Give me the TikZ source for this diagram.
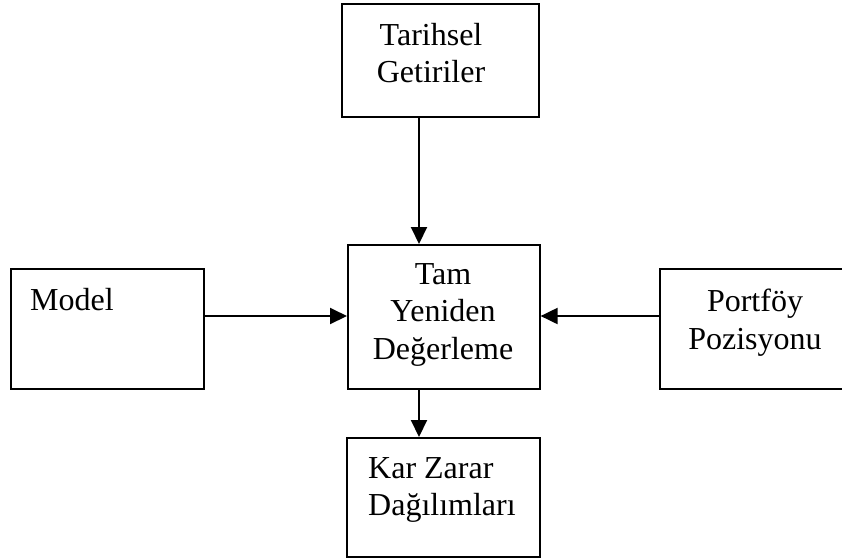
\documentclass[tikz,border=0pt]{standalone}
\usepackage{fontspec}
\setmainfont{Liberation Serif}
\usetikzlibrary{arrows.meta}
\tikzset{
  arr/.style={-{Triangle[length=17pt,width=16pt]}, line width=2pt, draw=black},
  blk/.style={draw=black, line width=1.6pt, anchor=north west, inner sep=0pt},
  lab/.style={font=\fontsize{32}{37.5}\selectfont, inner sep=0pt, align=center}
}
\begin{document}
\begin{tikzpicture}[x=1pt, y=-1pt]
\clip (0,0) rectangle (842,558);
% ---------- boxes ----------
\node[blk, minimum width=197pt, minimum height=113pt] (tar) at (341,3) {};
\node[blk, minimum width=192pt, minimum height=144pt] (tam) at (347,244) {};
\node[blk, minimum width=193pt, minimum height=120pt] (mod) at (10,268) {};
\node[blk, minimum width=193pt, minimum height=120pt] (pos) at (659,268) {};
\node[blk, minimum width=193pt, minimum height=119pt] (kz) at (346,437) {};
% ---------- texts ----------
\node[lab, anchor=north] (tar-t) at (431,23) {Tarihsel\\Getiriler};
\node[lab, anchor=north] (tam-t) at (443,263) {Tam\\Yeniden\\Değerleme};
\node[lab, anchor=north west, align=left] (mod-t) at (30,288) {Model};
\node[lab, anchor=north] (pos-t) at (755,289) {Portföy\\Pozisyonu};
\node[lab, anchor=north west, align=left] (kz-t) at (368,457) {Kar Zarar\\Dağılımları};
% ---------- connections ----------
\coordinate (ax) at (419,0);
\coordinate (ay) at (0,316);
\draw[arr] (tar.south -| ax) -- (tam.north -| ax);
\draw[arr] (mod.east |- ay) -- (tam.west |- ay);
\draw[arr] (pos.west |- ay) -- (tam.east |- ay);
\draw[arr] (tam.south -| ax) -- (kz.north -| ax);
\end{tikzpicture}
\end{document}
